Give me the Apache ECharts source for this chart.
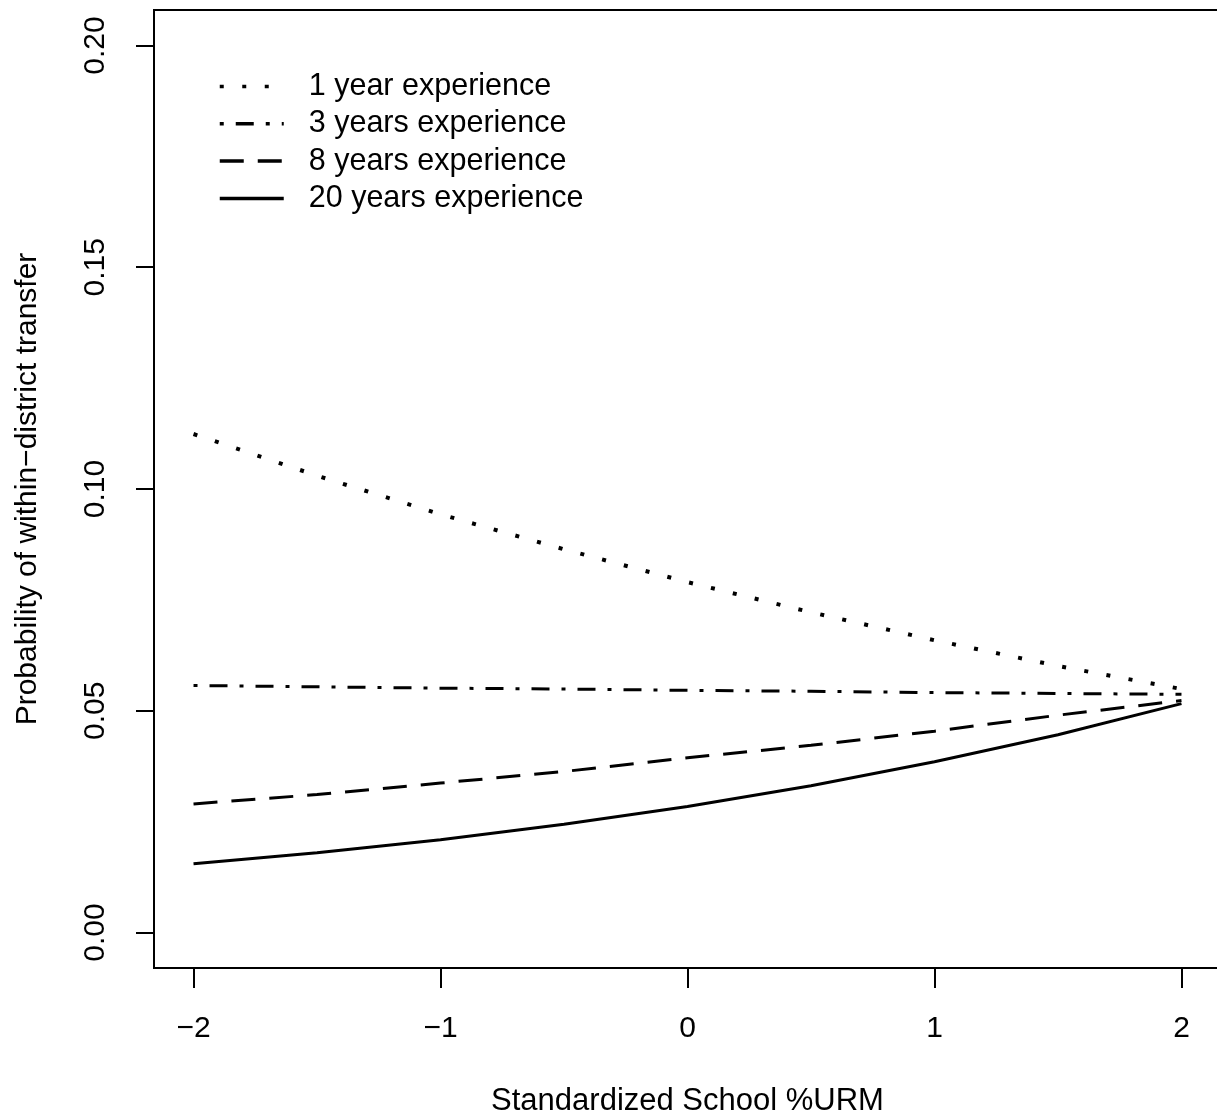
<!DOCTYPE html>
<html>
<head>
<meta charset="utf-8">
<script src="https://cdn.jsdelivr.net/npm/echarts@6/dist/echarts.min.js"></script>
<style>
html,body{margin:0;padding:0;background:#fff;}
#chart{width:1217px;height:1117px;}
</style>
</head>
<body>
<div id="chart"></div>
<script>
var xValues = [-2, -1.5, -1, -0.5, 0, 0.5, 1, 1.5, 2];
var exp1 = [0.1124, 0.1030, 0.0943, 0.0864, 0.0790, 0.0722, 0.0659, 0.0601, 0.0549];
var exp3 = [0.0557, 0.0554, 0.0551, 0.0549, 0.0546, 0.0544, 0.0541, 0.0539, 0.0537];
var exp8 = [0.0290, 0.0311, 0.0337, 0.0363, 0.0394, 0.0422, 0.0454, 0.0490, 0.0523];
var exp20 = [0.0155, 0.0180, 0.0209, 0.0244, 0.0284, 0.0331, 0.0385, 0.0446, 0.0516];
var seriesNames = ['1 year experience', '3 years experience', '8 years experience', '20 years experience'];
var xTicks = [-2, -1, 0, 1, 2];
var yTicks = [0, 0.05, 0.10, 0.15, 0.20];
var xTitle = 'Standardized School %URM';
var yTitle = 'Probability of within\u2212district transfer';

function pairs(ys) { return xValues.map(function (x, i) { return [x, ys[i]]; }); }

var font = 'Liberation Sans, Arial, Helvetica, sans-serif';
var dashTypes = [[4, 18.5], [4, 12, 18, 12], [24, 14], 'solid'];
var lineWidths = [4, 3, 3, 3];
var allData = [exp1, exp3, exp8, exp20];

var chart = echarts.init(document.getElementById('chart'), null, { renderer: 'canvas' });
chart.setOption({
  animation: false,
  backgroundColor: '#fff',
  grid: { left: 154, top: 10, width: 1067, height: 958, outerBoundsMode: 'none', containLabel: false,
    show: true, borderColor: '#000', borderWidth: 2, backgroundColor: 'transparent' },
  legend: {
    orient: 'vertical', left: 218, top: 71, padding: 0,
    itemWidth: 64, itemHeight: 14, itemGap: 6.3,
    itemStyle: { color: 'rgba(0,0,0,0)', borderWidth: 0, opacity: 0 },
    lineStyle: { width: 3.5 },
    textStyle: { fontFamily: font, fontSize: 30.5, color: '#000', lineHeight: 30, padding: [0, 0, 0, 20] },
    data: seriesNames,
    selectedMode: false
  },
  xAxis: {
    type: 'value', min: -2.16, max: 2.16,
    name: xTitle, nameLocation: 'middle', nameGap: 118,
    nameTextStyle: { fontFamily: font, fontSize: 31, color: '#000', verticalAlign: 'top' },
    axisLine: { show: true, onZero: false, lineStyle: { color: '#000', width: 2 } },
    splitLine: { show: false },
    axisTick: { show: true, inside: false, length: 20, customValues: xTicks, lineStyle: { color: '#000', width: 2 } },
    axisLabel: { customValues: xTicks, margin: 46, fontFamily: font, fontSize: 30, color: '#000',
      formatter: function (v) { return v < 0 ? '\u2212' + Math.abs(v) : String(v); } }
  },
  yAxis: {
    type: 'value', min: -0.008, max: 0.208,
    name: yTitle, nameLocation: 'middle', nameGap: 111, nameRotate: 90,
    nameTextStyle: { fontFamily: font, fontSize: 30, color: '#000' },
    axisLine: { show: true, onZero: false, lineStyle: { color: '#000', width: 2 } },
    splitLine: { show: false },
    axisTick: { show: true, inside: false, length: 18, customValues: yTicks, lineStyle: { color: '#000', width: 2 } },
    axisLabel: { customValues: yTicks, rotate: 90, margin: 43, fontFamily: font, fontSize: 30, color: '#000',
      formatter: function (v) { return v.toFixed(2); } }
  },
  series: seriesNames.map(function (name, i) {
    return {
      name: name, type: 'line', data: pairs(allData[i]),
      smooth: false, symbol: 'none', silent: true,
      lineStyle: { color: '#000', width: lineWidths[i], type: dashTypes[i] },
      itemStyle: { color: '#000' }
    };
  })
});
</script>
</body>
</html>
